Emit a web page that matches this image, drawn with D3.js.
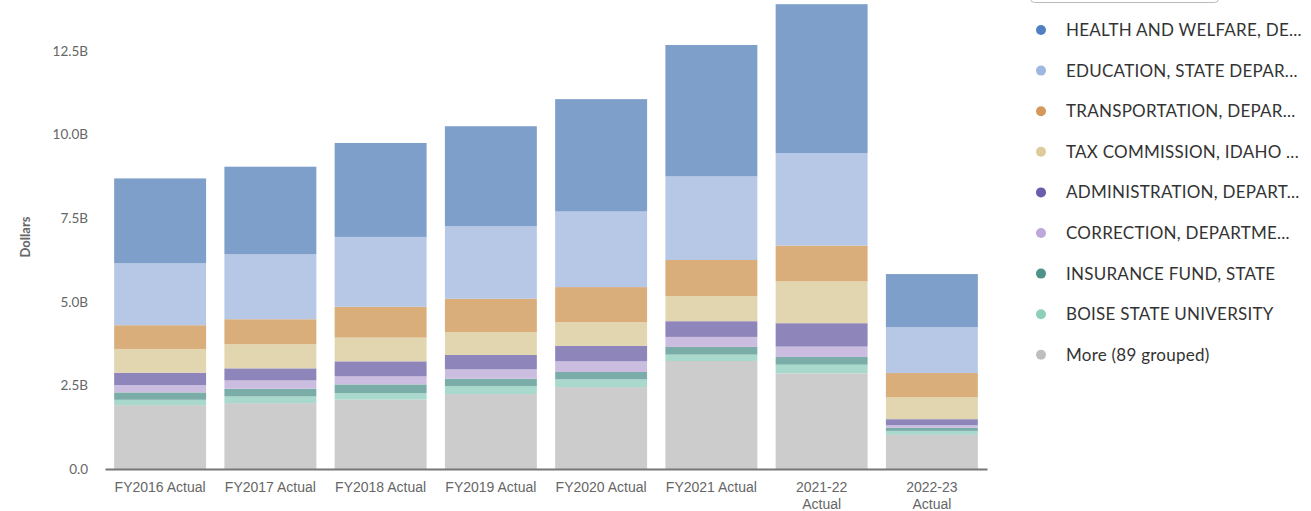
<!DOCTYPE html>
<html>
<head>
<meta charset="utf-8">
<script src="https://cdn.jsdelivr.net/npm/d3@7"></script>
<style>
  body { margin: 0; background: #fff; }
  svg { display: block; font-family: Lato, "Open Sans", sans-serif; }
</style>
</head>
<body>
<div id="chart"></div>
<script>
// categories (x axis), two-line labels split on \n
const years = ['FY2016 Actual', 'FY2017 Actual', 'FY2018 Actual', 'FY2019 Actual', 'FY2020 Actual', 'FY2021 Actual', '2021-22\nActual', '2022-23\nActual'];

// series, bottom to top, values in billions
const more      = [1.91, 1.97, 2.08, 2.24, 2.45, 3.23, 2.86, 1.02];
const boise     = [0.16, 0.20, 0.19, 0.24, 0.23, 0.19, 0.26, 0.12];
const insurance = [0.22, 0.23, 0.26, 0.22, 0.22, 0.23, 0.23, 0.09];
const correction = [0.22, 0.25, 0.24, 0.28, 0.32, 0.30, 0.31, 0.08];
const admin     = [0.37, 0.36, 0.45, 0.43, 0.46, 0.47, 0.70, 0.18];
const tax       = [0.71, 0.72, 0.71, 0.68, 0.71, 0.75, 1.25, 0.65];
const transport = [0.71, 0.75, 0.92, 1.00, 1.05, 1.08, 1.07, 0.73];
const education = [1.85, 1.94, 2.09, 2.17, 2.26, 2.50, 2.77, 1.37];
const health    = [2.54, 2.62, 2.81, 2.99, 3.36, 3.93, 4.45, 1.59];

const yTicks = [0, 2.5, 5, 7.5, 10, 12.5];

// legend order (top to bottom)
const legendNames = ['HEALTH AND WELFARE, DE...', 'EDUCATION, STATE DEPAR...', 'TRANSPORTATION, DEPAR...', 'TAX COMMISSION, IDAHO ...', 'ADMINISTRATION, DEPART...', 'CORRECTION, DEPARTME...', 'INSURANCE FUND, STATE', 'BOISE STATE UNIVERSITY', 'More (89 grouped)'];
const barColors = ['#7e9fca', '#b7c8e6', '#d9ae7b', '#e2d6b1', '#8e86bb', '#cbbde0', '#7aaca8', '#a9d8cc', '#cccccc'];
const dotColors = ['#4f80c1', '#9fb8e2', '#d5975c', '#ddcb9b', '#6a5dab', '#bca8da', '#4e928a', '#8dd0b8', '#bebebe'];

const stackSeries = [more, boise, insurance, correction, admin, tax, transport, education, health];
const keys = ['more', 'boise', 'insurance', 'correction', 'admin', 'tax', 'transport', 'education', 'health'];
const rows = years.map((y, i) => {
  const r = { year: y };
  keys.forEach((k, j) => r[k] = stackSeries[j][i]);
  return r;
});
const stacked = d3.stack().keys(keys)(rows);

const W = 1311, H = 511;
const svg = d3.select('#chart').append('svg').attr('width', W).attr('height', H);

const x = d3.scaleBand().domain(years).range([105, 987]).paddingInner(0.166).paddingOuter(0.083);
const y = d3.scaleLinear().domain([0, 12.5]).range([469, 51]);

// bars
svg.append('g').selectAll('g')
  .data(stacked)
  .join('g')
  .attr('fill', (d, i) => barColors[barColors.length - 1 - i])
  .selectAll('rect')
  .data(d => d)
  .join('rect')
  .attr('x', d => x(d.data.year))
  .attr('width', x.bandwidth())
  .attr('y', d => y(d[1]))
  .attr('height', d => y(d[0]) - y(d[1]));

// y axis labels
const yAxis = svg.append('g').attr('transform', 'translate(88,0)')
  .call(d3.axisLeft(y).tickValues(yTicks).tickSize(0).tickPadding(0)
    .tickFormat(d => d === 0 ? '0.0' : d3.format('.1f')(d) + 'B'));
yAxis.select('.domain').remove();
yAxis.selectAll('text').attr('fill', '#666').style('font-size', '13.5px').style('font-family', 'Lato, sans-serif');

svg.append('text')
  .attr('transform', 'translate(30,237) rotate(-90)')
  .attr('text-anchor', 'middle')
  .attr('fill', '#666')
  .style('font-size', '13px')
  .style('font-weight', 'bold')
  .text('Dollars');

// x axis
const xAxis = svg.append('g').attr('transform', 'translate(0,469)')
  .call(d3.axisBottom(x).tickSize(0).tickSizeOuter(0).tickFormat(''));
xAxis.select('.domain').attr('stroke', '#777').attr('stroke-width', 2);
xAxis.selectAll('.tick').each(function(d) {
  const t = d3.select(this).append('text')
    .attr('text-anchor', 'middle')
    .attr('fill', '#666')
    .style('font-size', '14px')
    .attr('y', 23);
  d.split('\n').forEach((line, i) => {
    t.append('tspan').attr('x', 0).attr('dy', i === 0 ? 0 : 17).text(line);
  });
});

// legend
svg.append('rect')
  .attr('x', 1030.5).attr('y', -20).attr('width', 188).attr('height', 22.5)
  .attr('rx', 4).attr('fill', '#fff').attr('stroke', '#bbb');

const legend = svg.append('g').selectAll('g')
  .data(legendNames)
  .join('g')
  .attr('transform', (d, i) => `translate(1041,${30 + i * 40.6})`);
legend.append('circle').attr('r', 5).attr('fill', (d, i) => dotColors[i]);
legend.append('text')
  .attr('x', 25).attr('dy', '0.35em')
  .attr('fill', '#333')
  .style('font-size', '17px')
  .style('letter-spacing', '0.25px')
  .text(d => d);
</script>
</body>
</html>
